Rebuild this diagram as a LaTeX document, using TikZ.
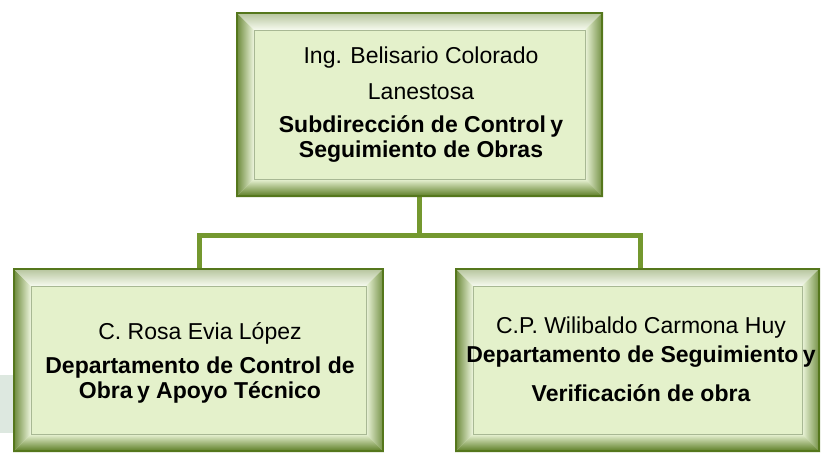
\documentclass[tikz,border=0pt]{standalone}
\usepackage{fontspec}
\setmainfont{Liberation Sans}
\begin{document}
\begin{tikzpicture}[x=1pt,y=-1pt,
  boxn/.style={draw=none,inner sep=0pt,outer sep=0pt,rectangle},
  nm/.style={inner sep=0pt,font=\fontsize{23}{25}\selectfont,align=center},
  tl/.style={inner sep=0pt,font=\fontsize{23}{25}\selectfont\bfseries,align=center},
  conn/.style={draw=linec,line width=5pt}]
\definecolor{edgec}{HTML}{55771C}
\definecolor{linec}{HTML}{74982F}
\definecolor{facec}{HTML}{E4F1CB}
\definecolor{framec}{HTML}{A8B894}
\definecolor{bandc}{HTML}{DDE8E0}
\newcommand\bevelbox[1]{%
  \fill[facec] (#1.north west) rectangle (#1.south east);
  \shade[left color=edgec!90!white,right color=facec!60!white]
    (#1.north west) -- ([shift={(18,18)}]#1.north west) -- ([shift={(18,-18)}]#1.south west) -- (#1.south west) -- cycle;
  \shade[top color=edgec!45!white,bottom color=white!70!facec]
    (#1.north west) -- (#1.north east) -- ([shift={(-18,18)}]#1.north east) -- ([shift={(18,18)}]#1.north west) -- cycle;
  \shade[left color=facec!70!white,right color=edgec!85!white]
    (#1.north east) -- (#1.south east) -- ([shift={(-18,-18)}]#1.south east) -- ([shift={(-18,18)}]#1.north east) -- cycle;
  \shade[top color=facec!80!white,bottom color=edgec]
    (#1.south west) -- ([shift={(18,-18)}]#1.south west) -- ([shift={(-18,-18)}]#1.south east) -- (#1.south east) -- cycle;
  \draw[edgec,line width=2pt] ([shift={(1,1)}]#1.north west) rectangle ([shift={(-1,-1)}]#1.south east);
  \draw[framec,line width=0.8pt] ([shift={(18,18)}]#1.north west) rectangle ([shift={(-18,-18)}]#1.south east);
}
\useasboundingbox (0,0) rectangle (826,453);
\fill[white] (0,0) rectangle (826,453);
\fill[bandc] (0,375) rectangle (14,433);
% box anchors
\node[boxn,minimum width=367pt,minimum height=185pt] (top) at (419.5,104.5) {};
\node[boxn,minimum width=371pt,minimum height=184pt] (left) at (198.5,360) {};
\node[boxn,minimum width=365pt,minimum height=184pt] (right) at (637.5,360) {};
\coordinate (j) at (419.5,235);
% connectors
\draw[conn] (top.south) -- (j);
\draw[conn] ([xshift=1pt]left.north) |- (j) -| ([xshift=2.5pt]right.north);
% boxes
\bevelbox{top}
\bevelbox{left}
\bevelbox{right}
% texts
\node[nm] (t1) at (421,58) {Ing. Belisario Colorado};
\node[nm] (t2) at (421,92) {Lanestosa};
\node[tl] (t3) at (421,139) {Subdirección de Control\hspace{-2pt} y\\Seguimiento de Obras};
\node[nm] (l1) at (200,333) {C. Rosa Evia López};
\node[tl] (l2) at (200,380) {Departamento de Control de\\Obra\hspace{-2pt} y Apoyo Técnico};
\node[nm] (r1) at (641,328) {C.P. Wilibaldo Carmona Huy};
\node[tl] (r2) at (641,357) {Departamento de Seguimiento\hspace{-2pt} y};
\node[tl] (r3) at (641,393) {Verificación de obra};
\end{tikzpicture}
\end{document}
